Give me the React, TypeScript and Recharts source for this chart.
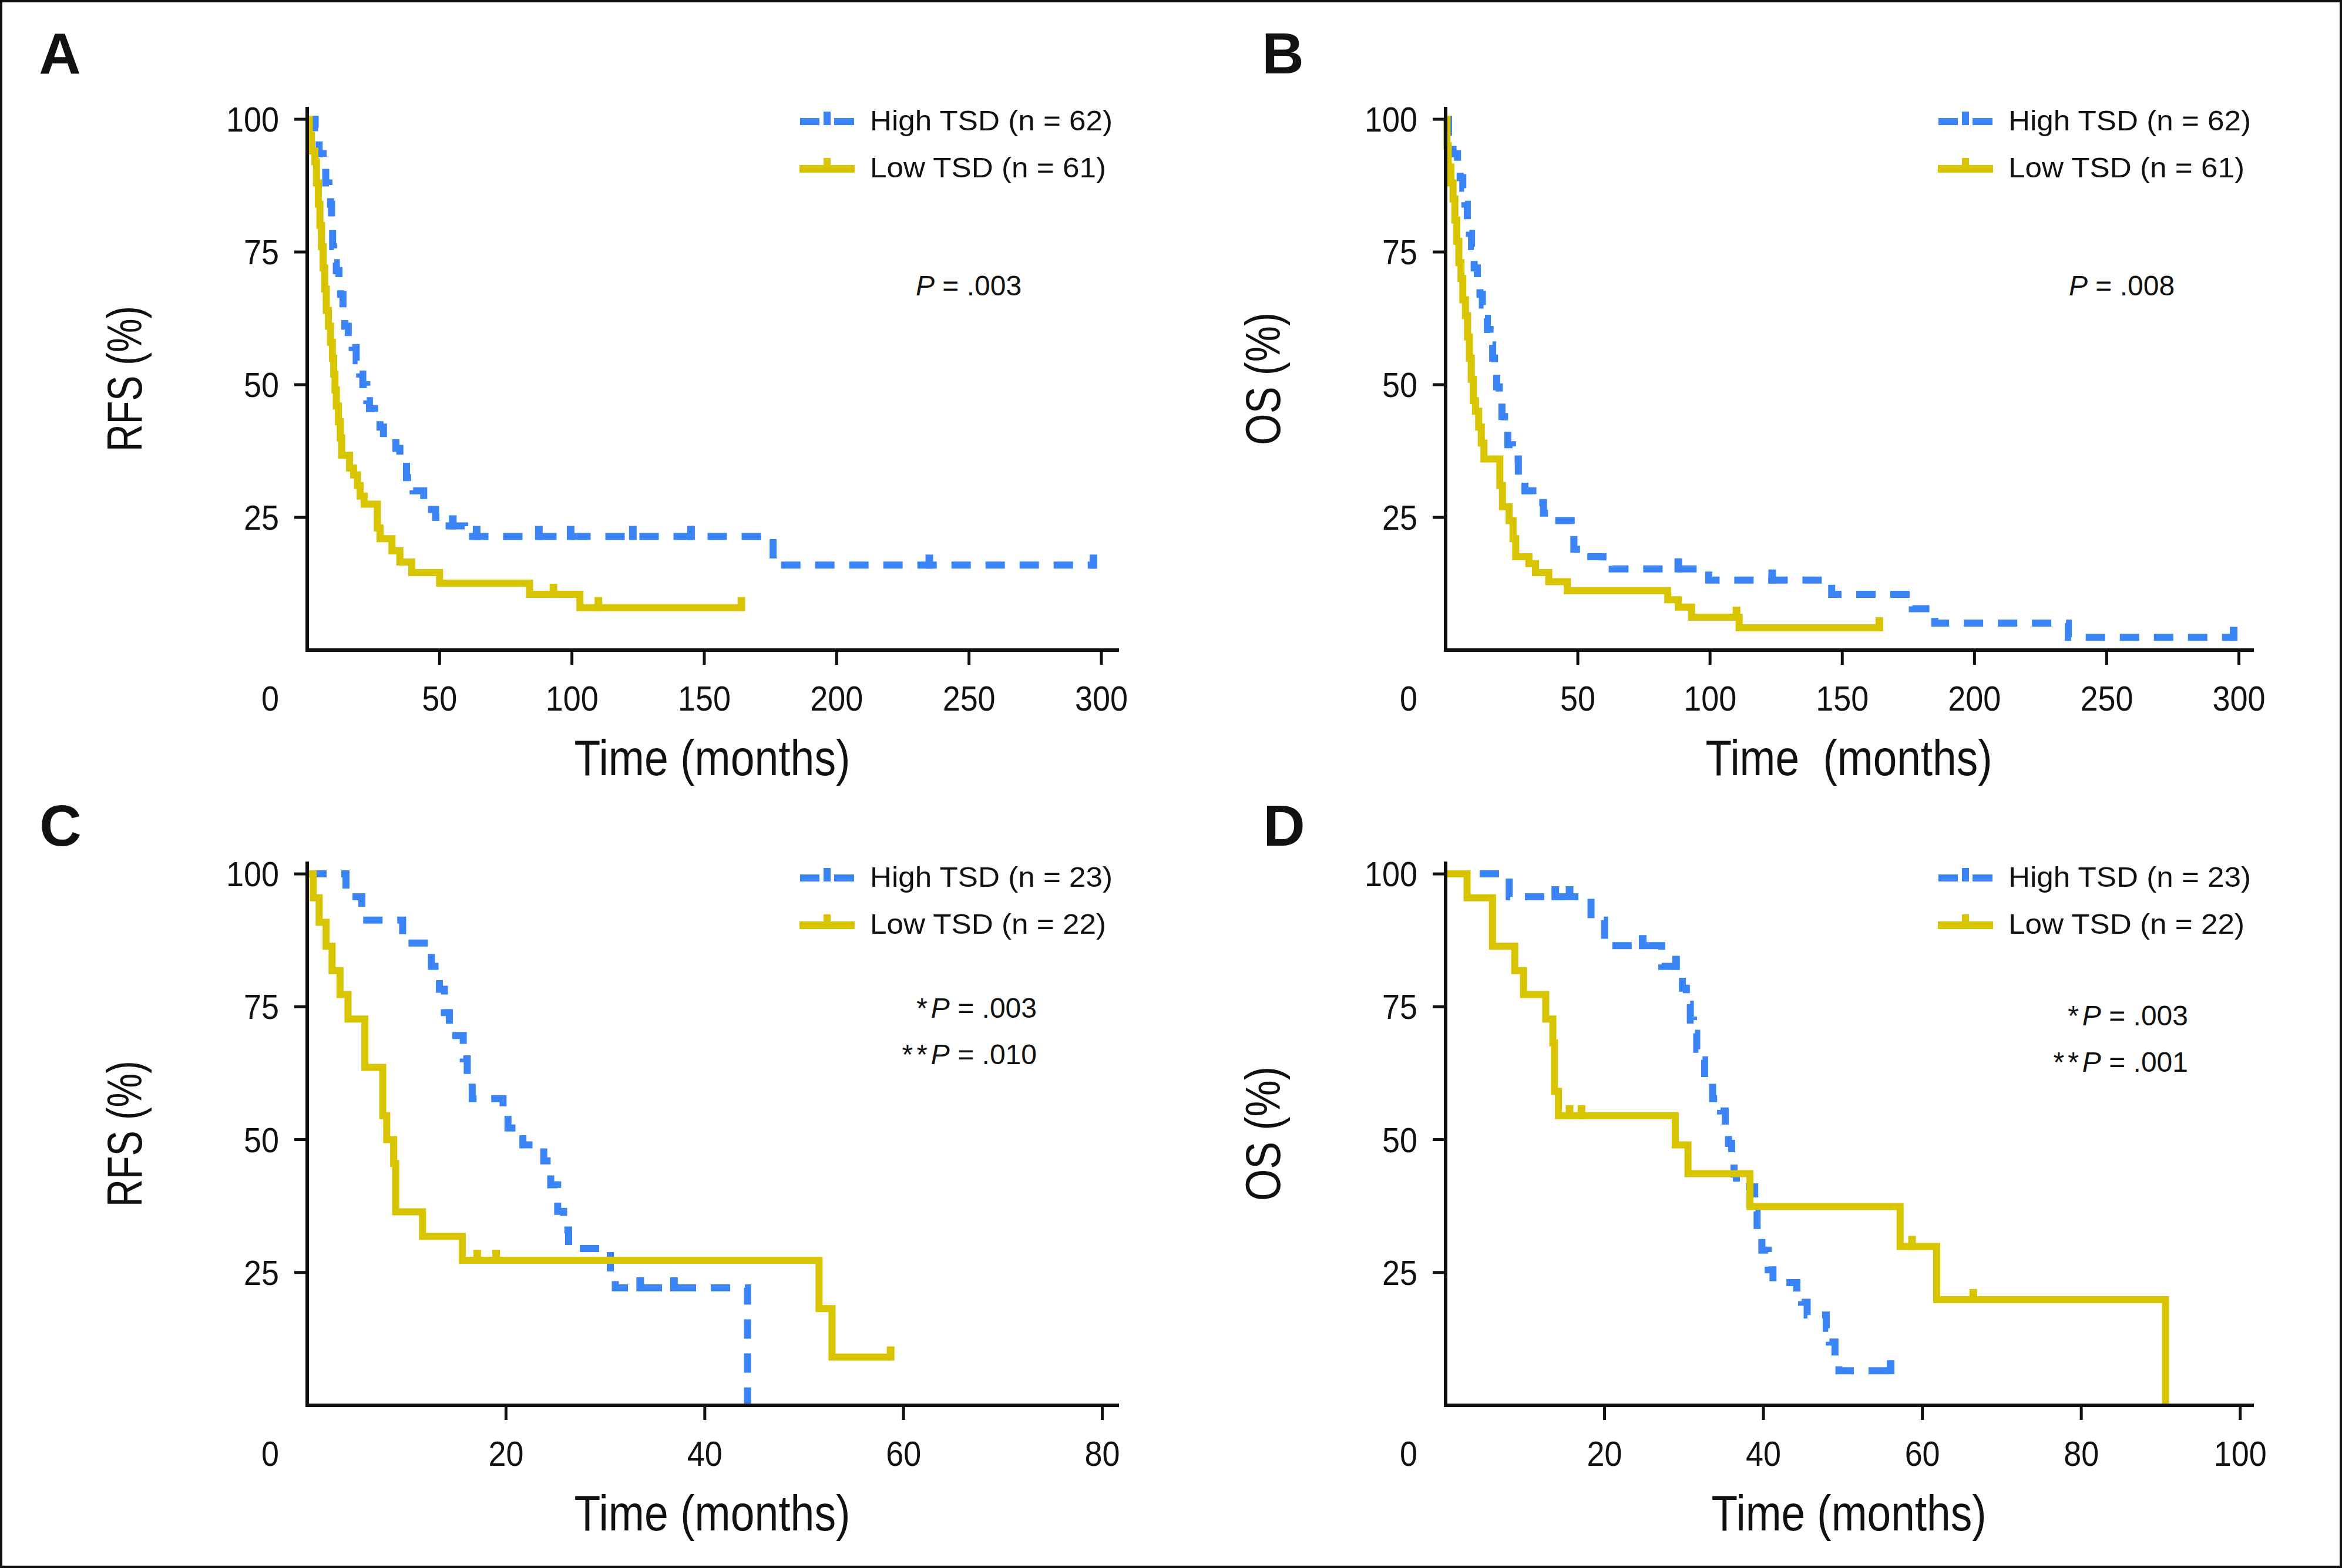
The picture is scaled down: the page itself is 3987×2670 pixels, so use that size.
import { LineChart, Line, XAxis, YAxis, Legend } from 'recharts'

const FONT = '"Liberation Sans", Arial, Helvetica, sans-serif'
const INK = '#111111'
const BLUE = '#3b84f6'
const GOLD = '#d9c400'

type Step = [number, number]

// A – RFS, whole cohort (months, % event-free)
const rfsAllHigh: Step[] = [
  [0, 100], [3, 98.4], [4.5, 93.5], [6, 91.6], [7, 88], [8.2, 86.5], [8.8, 84], [9.2, 80],
  [9.6, 76], [10, 73], [11, 71.5], [12, 68.5], [12.6, 67], [13.5, 64], [14.2, 61], [15.5, 59],
  [17, 57], [18.5, 54.5], [19.8, 52], [21, 50], [22.5, 47], [23.5, 45.5], [25.5, 44], [27.5, 42],
  [28.8, 40], [33.5, 38], [35, 35.5], [37.5, 32.5], [40, 30], [44, 26.5], [48.5, 25], [51, 23.4],
  [59.5, 21.4], [176, 16], [298, 16],
]
const rfsAllHighCens = [55, 64, 87.5, 99.5, 123, 145, 235, 297]
const rfsAllLow: Step[] = [
  [0, 100], [0.8, 97], [1.6, 94], [2.9, 92], [3.5, 88], [4.2, 84], [4.8, 80], [5.4, 76],
  [6, 72], [6.6, 68], [7.2, 64], [8, 61], [8.8, 58], [9.5, 55], [10, 52], [10.5, 49], [11, 46],
  [11.8, 43], [12.5, 40], [13, 36.7], [16, 34.3], [17.5, 33], [19, 31], [20, 29], [21.5, 27.5],
  [26.5, 23], [27.5, 21], [32, 18.7], [35, 16.6], [39.5, 14.6], [50, 12.6], [84, 10.5], [103, 8],
  [164, 8],
]
const rfsAllLowCens = [93, 110, 164]

// B – OS, whole cohort
const osAllHigh: Step[] = [
  [0, 100], [1.1, 95], [2.8, 93.5], [4.5, 91.6], [5.5, 89], [6.5, 87], [7.3, 84], [8.2, 81],
  [9, 78.5], [9.8, 76], [10.8, 72], [12, 69], [13, 67], [13.9, 65], [14.8, 62.5], [15.8, 60.4],
  [16.8, 57.5], [17.8, 55], [18.5, 52], [19.3, 49.6], [20.3, 47], [21.3, 44], [22.3, 41.5],
  [23.5, 38.7], [25.3, 36], [27.5, 33], [30, 30], [33, 27.8], [37, 25.8], [40.5, 24.4],
  [47.5, 21.5], [48.5, 19], [51, 17.6], [59.5, 16.3], [63, 15.3], [99.5, 13.2], [146, 10.5],
  [176.5, 7.8], [185, 5.1], [235.5, 2.4], [298, 2.4],
]
const osAllHighCens = [88, 123.5, 298]
const osAllLow: Step[] = [
  [0, 100], [0.5, 95], [1, 91], [2, 88], [2.8, 85], [3.5, 81], [4.2, 77], [5, 73], [5.8, 70],
  [6.5, 66], [7.5, 63], [8.3, 59], [9, 55], [9.7, 51], [10.5, 47], [11.3, 45], [12.5, 42],
  [13.5, 39], [14.5, 36], [20.5, 31], [21.5, 27], [24, 24.4], [25.5, 21], [26.5, 17.6],
  [31.5, 16.3], [34, 14.6], [39, 12.9], [46, 11.2], [84, 9.5], [88, 8.1], [93, 6.2], [111, 4.2],
  [164, 4.2],
]
const osAllLowCens = [110, 164]

// C – RFS, subgroup
const rfsSubHigh: Step[] = [
  [0, 100], [3.9, 95.7], [5.5, 91.3], [9.6, 87], [12.5, 82.6], [13.3, 78.3], [13.8, 73.9],
  [14.3, 69.6], [15.7, 65.2], [16.1, 60.9], [16.6, 57.7], [19.7, 55.7], [20.2, 52.2], [21.7, 49],
  [23.8, 46], [24.5, 41.5], [25.2, 36.5], [25.8, 33], [26.3, 29.5], [30.5, 25], [31, 22.1],
  [44.3, 0],
]
const rfsSubHighCens = [33.5, 36.9]
const rfsSubLow: Step[] = [
  [0, 100], [0.6, 95.5], [1.2, 90.9], [1.9, 86.4], [2.5, 81.8], [3.3, 77.3], [4.1, 72.7],
  [5.8, 63.6], [7.6, 54.5], [8, 50], [8.7, 45.5], [8.9, 36.4], [11.6, 31.8], [15.6, 27.3],
  [51.5, 18.2], [52.8, 9.1], [58.7, 9.1],
]
const rfsSubLowCens = [17.1, 19, 58.7]

// D – OS, subgroup
const osSubHigh: Step[] = [
  [0, 100], [8, 95.7], [18.3, 91.3], [20, 86.5], [27.2, 82.6], [29.8, 78.5], [30.3, 75.5],
  [30.8, 72.5], [31.2, 70], [31.6, 67], [32, 65], [32.6, 61.1], [33.6, 57.7], [34.6, 55.4],
  [35.2, 52.6], [35.6, 49.3], [36, 46.9], [36.3, 43.5], [36.6, 41.1], [38.9, 36.5], [39.2, 32.3],
  [39.8, 29.2], [40.6, 25.5], [41.2, 23.1], [44.2, 21.4], [44.8, 19.4], [45.5, 17], [47.9, 14.5],
  [48.3, 11.9], [49, 9.2], [49.5, 6.5], [56, 6.5],
]
const osSubHighCens = [13.8, 15.6, 24.8, 29, 56]
const osSubLow: Step[] = [
  [0, 100], [2.7, 95.5], [5.9, 86.4], [8.7, 81.8], [9.8, 77.3], [12.6, 72.7], [13.5, 68.2],
  [13.7, 59.1], [14.2, 54.5], [28.9, 49], [30.5, 43.6], [38.3, 37.4], [57.2, 29.9], [61.8, 19.9],
  [90.6, 0],
]
const osSubLowCens = [15.6, 17.1, 58.7, 66.4]

const Y_TICKS = [0, 25, 50, 75, 100]
const X_TICKS_ALL = [0, 50, 100, 150, 200, 250, 300]
const X_TICKS_C = [0, 20, 40, 60, 80]
const X_TICKS_D = [0, 20, 40, 60, 80, 100]

type Row = { t: number; s: number; c?: boolean }

// step points plus censor marks sitting on the curve
function kmRows(steps: Step[], cens: number[]): Row[] {
  const rows: Row[] = steps.map(([t, s]) => ({ t, s }))
  cens.forEach((t) => {
    let s = steps[0][1]
    for (const [ts, ss] of steps) if (ts <= t) s = ss
    rows.push({ t, s, c: true })
  })
  return rows.sort((a, b) => a.t - b.t || (a.c ? 1 : 0) - (b.c ? 1 : 0))
}

const LINE_W = 12

const censorDot = (color: string) => (p: any) => {
  const { cx, cy, payload, index } = p
  if (!payload?.c || cx == null || cy == null) return <g key={`n${index}`} />
  return <rect key={`c${index}`} x={cx - 6.5} y={cy - 18} width={13} height={24} fill={color} />
}

const PAD_L = 470
const PAD_T = 180
const PAD_R = 90
const PAD_B = 260
const X_AXIS_H = 170
const Y_AXIS_W = 120

const axisStyle = { stroke: INK, strokeWidth: 6, strokeLinecap: 'square' as const }

function KMLegend({ high, low }: { high: string; low: string }) {
  return (
    <svg width={560} height={150} style={{ display: 'block', overflow: 'visible' }}>
      <rect x={2} y={36} width={33} height={12} fill={BLUE} />
      <rect x={42} y={25} width={12} height={23} fill={BLUE} />
      <rect x={60} y={36} width={34} height={12} fill={BLUE} />
      <text x={121} y={57} fontSize={48} fontFamily={FONT} fill={INK} textLength={413} lengthAdjust="spacingAndGlyphs">
        {high}
      </text>
      <rect x={1} y={116} width={94} height={13} fill={GOLD} />
      <rect x={42} y={104} width={12} height={14} fill={GOLD} />
      <text x={121} y={137} fontSize={48} fontFamily={FONT} fill={INK} textLength={402} lengthAdjust="spacingAndGlyphs">
        {low}
      </text>
    </svg>
  )
}

type PanelProps = {
  left: number
  top: number
  w: number
  h: number
  xMax: number
  xTicks: number[]
  yTitle: string
  yTitleLen: number
  xTitle: string
  xTitleLen: number
  high: Row[]
  low: Row[]
  highLabel: string
  lowLabel: string
  legendDy: number
}

function KMPanel(p: PanelProps) {
  const plotBottom = PAD_T + p.h
  const xTick = (props: any) => {
    const v = props.payload.value
    const x = v === 0 ? PAD_L - 63 : props.x
    return (
      <g>
        {v !== 0 && <line x1={x} x2={x} y1={plotBottom} y2={plotBottom + 25} stroke={INK} strokeWidth={5} />}
        <text x={x} y={plotBottom + 103} textAnchor="middle" fontSize={60} fontFamily={FONT} fill={INK}
          textLength={String(v).length * 30} lengthAdjust="spacingAndGlyphs">{v}</text>
      </g>
    )
  }
  const yTick = (props: any) => {
    const v = props.payload.value
    if (v === 0) return <g />
    return (
      <g>
        <line x1={PAD_L - 22} x2={PAD_L} y1={props.y} y2={props.y} stroke={INK} strokeWidth={5} />
        <text x={PAD_L - 48} y={props.y + 21} textAnchor="end" fontSize={60} fontFamily={FONT} fill={INK}
          textLength={String(v).length * 30} lengthAdjust="spacingAndGlyphs">{v}</text>
      </g>
    )
  }
  return (
    <div style={{ position: 'absolute', left: p.left - PAD_L, top: p.top - PAD_T }}>
      <LineChart
        width={p.w + PAD_L + PAD_R}
        height={p.h + PAD_T + PAD_B}
        margin={{ top: PAD_T, right: PAD_R, bottom: PAD_B - X_AXIS_H, left: PAD_L - Y_AXIS_W }}
      >
        <XAxis
          type="number" dataKey="t" domain={[0, p.xMax]} ticks={p.xTicks} interval={0}
          height={X_AXIS_H} tickLine={false} axisLine={axisStyle} tick={xTick}
          label={{
            content: () => (
              <text x={PAD_L + p.w / 2} y={plotBottom + 213} textAnchor="middle" fontSize={86}
                fontFamily={FONT} fill={INK} textLength={p.xTitleLen} lengthAdjust="spacingAndGlyphs"
                xmlSpace="preserve" style={{ whiteSpace: 'pre' }}>{p.xTitle}</text>
            ),
          }}
        />
        <YAxis
          type="number" dataKey="s" domain={[0, 102]} ticks={Y_TICKS} interval={0}
          width={Y_AXIS_W} tickLine={false} axisLine={axisStyle} tick={yTick}
          label={{
            content: () => (
              <text transform={`translate(${PAD_L - 312},${PAD_T + p.h / 2 - 1}) rotate(-90)`}
                textAnchor="middle" dy="0.36em" fontSize={84} fontFamily={FONT} fill={INK}
                textLength={p.yTitleLen} lengthAdjust="spacingAndGlyphs">{p.yTitle}</text>
            ),
          }}
        />
        <Legend
          layout="vertical" align="center" verticalAlign="middle"
          wrapperStyle={{ left: PAD_L + 837, top: PAD_T - 20 + p.legendDy, width: 560, height: 150 }}
          content={() => <KMLegend high={p.highLabel} low={p.lowLabel} />}
        />
        <Line
          name={p.highLabel} data={p.high} dataKey="s" type="stepAfter" stroke={BLUE}
          strokeWidth={LINE_W} strokeDasharray="33 25" dot={censorDot(BLUE)} activeDot={false}
          isAnimationActive={false}
        />
        <Line
          name={p.lowLabel} data={p.low} dataKey="s" type="stepAfter" stroke={GOLD}
          strokeWidth={LINE_W} dot={censorDot(GOLD)} activeDot={false} isAnimationActive={false}
        />
      </LineChart>
    </div>
  )
}

function PText({ x, y, stars, value, anchor }: { x: number; y: number; stars: number; value: string; anchor: 'start' | 'end' }) {
  return (
    <text x={x} y={y} textAnchor={anchor} fontSize={48} fontFamily={FONT} fill={INK}>
      {stars >= 1 && <tspan>*</tspan>}
      {stars >= 2 && <tspan dx={6}>*</tspan>}
      <tspan dx={stars ? 6 : 0} fontStyle="italic">P</tspan>
      <tspan>{` = ${value}`}</tspan>
    </text>
  )
}

export default function App() {
  return (
    <div
      style={{
        position: 'absolute', left: 0, top: 0, width: 3987, height: 2670, background: '#fff',
        boxShadow: `inset 0 0 0 4px ${INK}`, overflow: 'hidden', fontFamily: FONT,
      }}
    >
      <KMPanel
        left={523} top={185} w={1379} h={922} xMax={306} xTicks={X_TICKS_ALL}
        yTitle="RFS (%)" yTitleLen={248} xTitle="Time (months)" xTitleLen={470}
        high={kmRows(rfsAllHigh, rfsAllHighCens)} low={kmRows(rfsAllLow, rfsAllLowCens)}
        highLabel="High TSD (n = 62)" lowLabel="Low TSD (n = 61)" legendDy={0}
      />
      <KMPanel
        left={2461} top={185} w={1373} h={922} xMax={305} xTicks={X_TICKS_ALL}
        yTitle="OS (%)" yTitleLen={226} xTitle="Time  (months)" xTitleLen={488}
        high={kmRows(osAllHigh, osAllHighCens)} low={kmRows(osAllLow, osAllLowCens)}
        highLabel="High TSD (n = 62)" lowLabel="Low TSD (n = 61)" legendDy={0}
      />
      <KMPanel
        left={523} top={1470} w={1379} h={923} xMax={81.5} xTicks={X_TICKS_C}
        yTitle="RFS (%)" yTitleLen={249} xTitle="Time (months)" xTitleLen={470}
        high={kmRows(rfsSubHigh, rfsSubHighCens)} low={kmRows(rfsSubLow, rfsSubLowCens)}
        highLabel="High TSD (n = 23)" lowLabel="Low TSD (n = 22)" legendDy={3}
      />
      <KMPanel
        left={2461} top={1470} w={1373} h={923} xMax={101.5} xTicks={X_TICKS_D}
        yTitle="OS (%)" yTitleLen={229} xTitle="Time (months)" xTitleLen={468}
        high={kmRows(osSubHigh, osSubHighCens)} low={kmRows(osSubLow, osSubLowCens)}
        highLabel="High TSD (n = 23)" lowLabel="Low TSD (n = 22)" legendDy={3}
      />
      <svg width={3987} height={2670} style={{ position: 'absolute', left: 0, top: 0, pointerEvents: 'none' }}>
        <g fontFamily={FONT} fontWeight="bold" fontSize={99} fill={INK} textAnchor="middle">
          <text x={102} y={125}>A</text>
          <text x={2184} y={125}>B</text>
          <text x={103} y={1440}>C</text>
          <text x={2186} y={1440}>D</text>
        </g>
        <PText x={1559} y={503} stars={0} value=".003" anchor="start" />
        <PText x={3522} y={503} stars={0} value=".008" anchor="start" />
        <PText x={1765} y={1733} stars={1} value=".003" anchor="end" />
        <PText x={1765} y={1812} stars={2} value=".010" anchor="end" />
        <PText x={3725} y={1746} stars={1} value=".003" anchor="end" />
        <PText x={3725} y={1825} stars={2} value=".001" anchor="end" />
      </svg>
    </div>
  )
}
